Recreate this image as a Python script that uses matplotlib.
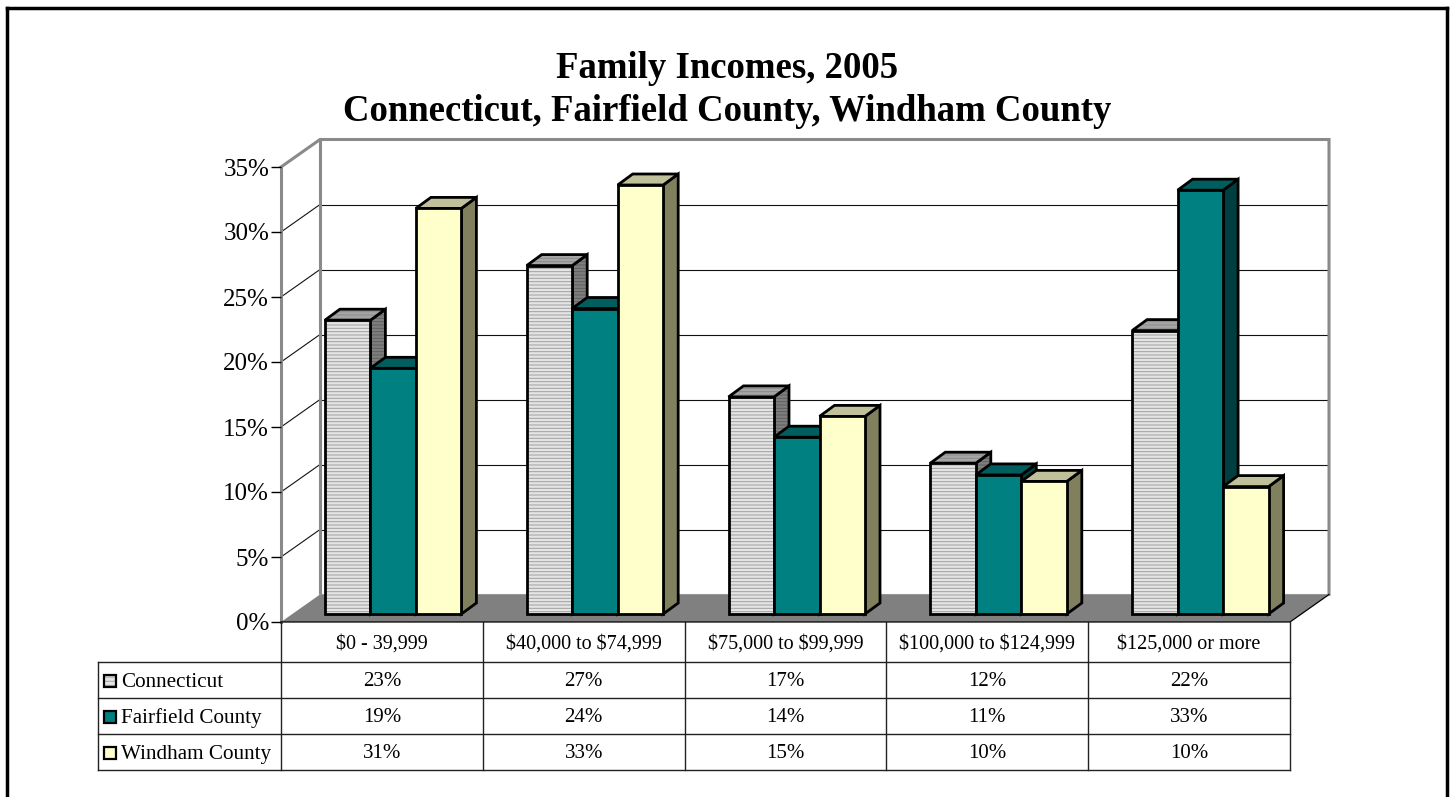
import matplotlib
matplotlib.use('Agg')
import matplotlib.pyplot as plt
from matplotlib.patches import Polygon, Rectangle
from matplotlib.lines import Line2D

plt.rcParams['font.family'] = ['Liberation Serif', 'DejaVu Serif']
plt.rcParams['hatch.linewidth'] = 0.7

# ---- data ----
categories = ['$0 - 39,999', '$40,000 to $74,999', '$75,000 to $99,999',
              '$100,000 to $124,999', '$125,000 or more']
series_names = ['Connecticut', 'Fairfield County', 'Windham County']
connecticut = [22.6, 26.8, 16.7, 11.6, 21.8]
fairfield = [18.9, 23.5, 13.6, 10.7, 32.6]
windham = [31.2, 33.0, 15.2, 10.2, 9.8]
yticks = [0, 5, 10, 15, 20, 25, 30, 35]
title = 'Family Incomes, 2005\nConnecticut, Fairfield County, Windham County'

all_series = [connecticut, fairfield, windham]
# front, top, side, hatch colour (None = plain)
styles = [
    ('#e4e4e4', '#a6a6a6', '#7e7e7e', '#a0a0a0'),
    ('#008080', '#005e5e', '#003f3f', None),
    ('#ffffcc', '#c0c09a', '#80805f', None),
]

W, H = 1450, 797
fig = plt.figure(figsize=(W / 100, H / 100), dpi=100)
fig.patch.set_facecolor('white')


def fx(p):
    return p / W


def fy(p):
    return 1 - p / H


# front plane of the 3d box: x 281..1290 px, y 622 (0%) .. 167 (35%)
left_px, right_px, base_px, top_px = 281, 1290, 622, 167
ax = fig.add_axes([fx(left_px), fy(base_px), (right_px - left_px) / W, (base_px - top_px) / H])
ax.set_xlim(-0.5, len(categories) - 0.5)
ax.set_ylim(0, 35)
ax.patch.set_visible(False)

sx = len(categories) / (right_px - left_px)   # data units per pixel
sy = 35 / (base_px - top_px)
DX, DY = 39 * sx, 27.5 * sy          # full depth of the box
FX, FY = 11.25 * sx, 8 * sy          # front face of the bars
BX, BY = 26.25 * sx, 19 * sy         # back face of the bars
bw = 45.5 * sx
x_lo, x_hi = -0.5, len(categories) - 0.5

# walls
ax.add_patch(Rectangle((x_lo + DX, DY), x_hi - x_lo, 35, facecolor='white',
                       edgecolor='none', zorder=0, clip_on=False))
for t in yticks[1:-1]:
    ax.plot([x_lo + DX, x_hi + DX], [t + DY, t + DY], color='#111111', lw=0.8,
            zorder=1, clip_on=False)
    ax.plot([x_lo, x_lo + DX], [t, t + DY], color='#111111', lw=0.8, zorder=1, clip_on=False)
ax.plot([x_lo, x_lo + DX, x_hi + DX, x_hi + DX], [35, 35 + DY, 35 + DY, DY],
        color='#8a8a8a', lw=2.2, zorder=1, clip_on=False, solid_joinstyle='miter')
ax.plot([x_lo + DX, x_lo + DX], [DY, 35 + DY], color='#8a8a8a', lw=2.2, zorder=1, clip_on=False)
ax.plot([x_lo + DX, x_hi + DX], [DY, DY], color='#b0b0b0', lw=1.5, zorder=1, clip_on=False)

# floor
ax.add_patch(Polygon([(x_lo, 0), (x_hi, 0), (x_hi + DX, DY), (x_lo + DX, DY)],
                     facecolor='#808080', edgecolor='none', zorder=2, clip_on=False))
ax.plot([x_lo, x_hi, x_hi + DX], [0, 0, DY], color='black', lw=0.9, zorder=2, clip_on=False)


def face(pts, color, hatch_col, z):
    if hatch_col:
        ax.add_patch(Polygon(pts, facecolor=color, edgecolor=hatch_col, hatch='-----',
                             lw=0, zorder=z, clip_on=False))
    else:
        ax.add_patch(Polygon(pts, facecolor=color, edgecolor='none', zorder=z, clip_on=False))
    ax.add_patch(Polygon(pts, fill=False, edgecolor='black', lw=2, zorder=z,
                         clip_on=False, joinstyle='miter'))


z = 3
for i in range(len(categories)):
    for s, vals in enumerate(all_series):
        front, top, side, hc = styles[s]
        x0 = i - 1.5 * bw + s * bw
        h = vals[i]
        side_hc = '#5e5e5e' if hc else None
        top_hc = '#8a8a8a' if hc else None
        face([(x0 + bw + FX, FY), (x0 + bw + BX, BY), (x0 + bw + BX, h + BY),
              (x0 + bw + FX, h + FY)], side, side_hc, z)
        face([(x0 + FX, h + FY), (x0 + bw + FX, h + FY), (x0 + bw + BX, h + BY),
              (x0 + BX, h + BY)], top, top_hc, z + 0.1)
        face([(x0 + FX, FY), (x0 + bw + FX, FY), (x0 + bw + FX, h + FY),
              (x0 + FX, h + FY)], front, hc, z + 0.2)
        z += 1

# axis
for sp in ['top', 'right', 'bottom']:
    ax.spines[sp].set_visible(False)
ax.spines['left'].set_color('#8a8a8a')
ax.spines['left'].set_linewidth(2.2)
ax.spines['left'].set_zorder(1)
ax.set_xticks([])
ax.set_yticks(yticks)
ax.set_yticklabels([f'{t}%' for t in yticks], fontsize=18)
ax.tick_params(axis='y', length=7.5, width=1, color='black', pad=1)

# title
fig.text(fx(727), fy(90), title, ha='center', va='center', fontsize=26.5,
         fontweight='bold', linespacing=1.32)

# data table
row_px = [622, 662, 698, 734, 770]
col_w = (right_px - left_px) / len(categories)
col_px = [left_px + k * col_w for k in range(len(categories) + 1)]
legend_left = 98


def hline(x0, x1, y):
    fig.add_artist(Line2D([fx(x0), fx(x1)], [fy(y), fy(y)], color='#222222', lw=1))


def vline(x, y0, y1):
    fig.add_artist(Line2D([fx(x), fx(x)], [fy(y0), fy(y1)], color='#222222', lw=1))


for y in row_px[1:]:
    hline(legend_left, right_px, y)
for x in col_px:
    vline(x, row_px[0], row_px[-1])
vline(legend_left, row_px[1], row_px[-1])

for k, cat in enumerate(categories):
    cx = (col_px[k] + col_px[k + 1]) / 2
    fig.text(fx(cx), fy((row_px[0] + row_px[1]) / 2 + 2), cat, ha='center', va='center',
             fontsize=14.5, parse_math=False)
    for s, vals in enumerate(all_series):
        cy = (row_px[s + 1] + row_px[s + 2]) / 2
        fig.text(fx(cx), fy(cy + 2), f'{int(vals[k] + 0.5)}%', ha='center', va='center',
                 fontsize=15)

for s, name in enumerate(series_names):
    cy = (row_px[s + 1] + row_px[s + 2]) / 2
    front, top, side, hc = styles[s]
    key = Rectangle((fx(104), fy(cy + 7)), 12 / W, 12 / H, transform=fig.transFigure,
                    facecolor=front, edgecolor=hc if hc else 'none', hatch='----' if hc else None,
                    lw=0)
    fig.add_artist(key)
    fig.add_artist(Rectangle((fx(104), fy(cy + 7)), 12 / W, 12 / H, transform=fig.transFigure,
                             fill=False, edgecolor='black', lw=1.6))
    fig.text(fx(121), fy(cy + 2.5), name, ha='left', va='center', fontsize=15.2)

# outer frame
for xs, ys in [([7, 7], [8, 800]), ([7, 1447], [8, 8]), ([1447, 1447], [8, 800])]:
    fig.add_artist(Line2D([fx(x) for x in xs], [fy(y) for y in ys], color='black', lw=2.5,
                          solid_capstyle='projecting'))

fig.savefig('out.png', dpi=100, facecolor='white')
